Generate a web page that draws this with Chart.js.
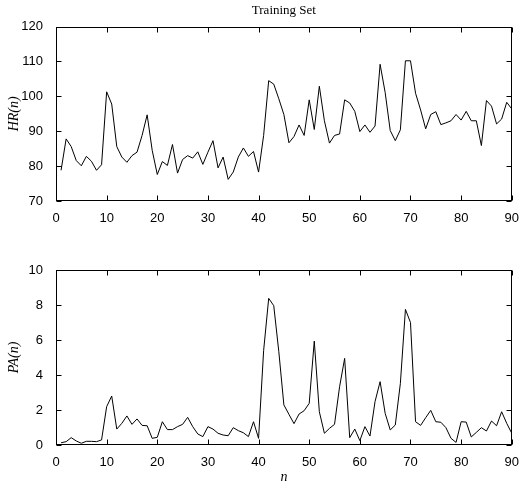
<!DOCTYPE html>
<html>
<head>
<meta charset="utf-8">
<script src="https://cdn.jsdelivr.net/npm/chart.js@4/dist/chart.umd.min.js"></script>
<style>
  body { margin: 0; background: #fff; }
  #wrap { position: relative; width: 521px; height: 486px; }
  canvas { position: absolute; left: 0; }
</style>
</head>
<body>
<div id="wrap">
  <canvas id="hr" width="521" height="230" style="top:0"></canvas>
  <canvas id="pa" width="521" height="246" style="top:240px"></canvas>
</div>
<script>
// sample index
const n = [
   1,  2,  3,  4,  5,  6,  7,  8,  9, 10, 11, 12, 13, 14, 15, 16, 17, 18, 19, 20,
  21, 22, 23, 24, 25, 26, 27, 28, 29, 30, 31, 32, 33, 34, 35, 36, 37, 38, 39, 40,
  41, 42, 43, 44, 45, 46, 47, 48, 49, 50, 51, 52, 53, 54, 55, 56, 57, 58, 59, 60,
  61, 62, 63, 64, 65, 66, 67, 68, 69, 70, 71, 72, 73, 74, 75, 76, 77, 78, 79, 80,
  81, 82, 83, 84, 85, 86, 87, 88, 89, 90
];

// HR(n)
const hr = [
  78.8, 87.8, 85.6, 81.6, 80.1, 82.8, 81.4, 78.8, 80.4, 101.3,
  97.8, 85.6, 82.6, 81.1, 83.0, 84.0, 88.8, 94.7, 84.5, 77.6,
  81.3, 80.2, 86.2, 78.0, 81.9, 83.0, 82.3, 84.1, 80.5, 84.0,
  87.3, 79.5, 82.6, 76.2, 78.3, 82.6, 85.2, 82.8, 84.2, 78.3,
  88.8, 104.5, 103.5, 99.3, 94.8, 86.7, 88.5, 91.8, 88.8, 99.0,
  90.5, 102.9, 93.0, 86.6, 88.8, 89.2, 99.0, 98.1, 95.7, 89.9,
  91.8, 89.7, 91.5, 109.2, 101.1, 90.2, 87.3, 90.4, 110.2, 110.2,
  100.9, 96.1, 90.7, 94.8, 95.6, 91.9, 92.4, 93.0, 94.8, 93.2,
  95.7, 93.0, 93.0, 85.9, 98.8, 97.2, 92.1, 93.5, 98.3, 96.4
];

// PA(n)
const pa = [
  0.13, 0.19, 0.42, 0.23, 0.10, 0.21, 0.21, 0.19, 0.29, 2.19,
  2.80, 0.91, 1.24, 1.66, 1.18, 1.49, 1.12, 1.10, 0.38, 0.44,
  1.33, 0.88, 0.88, 1.05, 1.18, 1.58, 1.05, 0.63, 0.48, 1.05,
  0.91, 0.67, 0.57, 0.53, 0.99, 0.82, 0.70, 0.48, 1.33, 0.38,
  5.40, 8.38, 7.96, 5.33, 2.29, 1.75, 1.22, 1.77, 1.96, 2.38,
  5.94, 1.90, 0.67, 0.95, 1.18, 3.33, 4.95, 0.42, 0.91, 0.25,
  1.05, 0.51, 2.48, 3.62, 1.81, 0.86, 1.14, 3.52, 7.75, 7.00,
  1.33, 1.12, 1.56, 1.98, 1.33, 1.30, 0.99, 0.38, 0.15, 1.33,
  1.31, 0.46, 0.72, 0.99, 0.80, 1.37, 1.10, 1.90, 1.24, 0.67
];

const xTicks = [0, 10, 20, 30, 40, 50, 60, 70, 80, 90];
const hrTicks = [70, 80, 90, 100, 110, 120];
const paTicks = [0, 2, 4, 6, 8, 10];

const tickFont = { family: 'Liberation Sans', size: 13 };
const mathFont = { family: 'Liberation Serif', size: 14, style: 'italic' };

// matlab style box with inward ticks on all four sides
const boxTicks = {
  id: 'boxTicks',
  afterDraw(chart) {
    const { ctx, chartArea: a, scales } = chart;
    const L = Math.round(a.left) + 0.5, R = Math.round(a.right) - 0.5;
    const T = Math.round(a.top) + 0.5, B = Math.round(a.bottom) - 0.5;
    ctx.save();
    ctx.strokeStyle = '#000';
    ctx.lineWidth = 1;
    ctx.beginPath();
    scales.x.ticks.forEach(t => {
      const px = Math.round(scales.x.getPixelForValue(t.value)) + 0.5;
      ctx.moveTo(px, B); ctx.lineTo(px, B - 5);
      ctx.moveTo(px, T); ctx.lineTo(px, T + 5);
    });
    scales.y.ticks.forEach(t => {
      const py = Math.round(scales.y.getPixelForValue(t.value)) + 0.5;
      ctx.moveTo(L, py); ctx.lineTo(L + 5, py);
      ctx.moveTo(R, py); ctx.lineTo(R - 5, py);
    });
    ctx.stroke();
    ctx.strokeRect(L, T, R - L, B - T);
    ctx.restore();
  }
};

function makeChart(id, values, yTicks, yLabel, opts) {
  return new Chart(id, {
    type: 'line',
    data: {
      datasets: [{
        data: n.map((v, i) => ({ x: v, y: values[i] })),
        borderColor: '#000',
        borderWidth: 1,
        pointRadius: 0,
        tension: 0,
        fill: false
      }]
    },
    options: {
      responsive: false,
      animation: false,
      events: [],
      layout: { padding: opts.padding },
      plugins: {
        legend: { display: false },
        tooltip: { enabled: false },
        title: opts.title
      },
      scales: {
        x: {
          type: 'linear',
          min: 0, max: 90,
          afterBuildTicks: s => { s.ticks = xTicks.map(v => ({ value: v })); },
          afterFit: s => { s.height = opts.xHeight; },
          grid: { display: false },
          border: { display: false },
          ticks: { color: '#000', font: tickFont, padding: 2, maxRotation: 0 },
          title: opts.xTitle
        },
        y: {
          min: yTicks[0], max: yTicks[yTicks.length - 1],
          afterBuildTicks: s => { s.ticks = yTicks.map(v => ({ value: v })); },
          afterFit: s => { s.width = 56; },
          grid: { display: false },
          border: { display: false },
          ticks: { color: '#000', font: tickFont, padding: 5 },
          title: { display: true, text: yLabel, color: '#000', font: mathFont, padding: { top: 6, bottom: 0 } }
        }
      }
    },
    plugins: [boxTicks]
  });
}

makeChart('hr', hr, hrTicks, 'HR(n)', {
  padding: { left: 0, right: 7, top: 0, bottom: 0 },
  xHeight: 29,
  title: {
    display: true, text: 'Training Set', color: '#000', fullSize: false,
    font: { family: 'Liberation Serif', size: 13, weight: 'normal' },
    padding: { top: 3, bottom: 8 }
  },
  xTitle: { display: false }
});

makeChart('pa', pa, paTicks, 'PA(n)', {
  padding: { left: 0, right: 7, top: 30, bottom: 0 },
  xHeight: 41,
  title: { display: false },
  xTitle: { display: true, text: 'n', color: '#000', font: mathFont, padding: { top: 0, bottom: 0 } }
});
</script>
</body>
</html>
